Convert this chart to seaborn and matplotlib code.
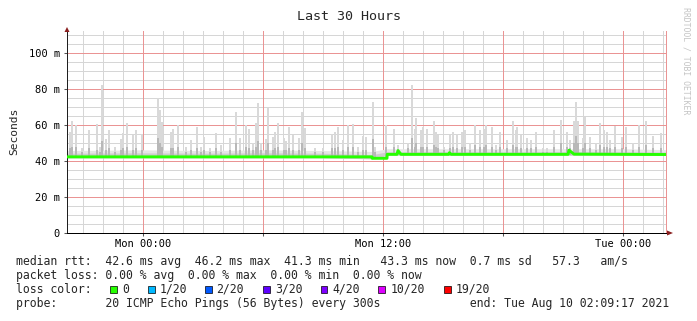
import numpy as np
import pandas as pd
import matplotlib
matplotlib.use("Agg")
import matplotlib.pyplot as plt
import seaborn as sns
from matplotlib.patches import Rectangle, Polygon

# ---------------- data (hours relative to Mon 00:00, values in ms) ----------------
median_hours = [-3.8, 11.45, 11.46, 12.2, 12.21, 12.7, 12.75, 12.9, 15.28, 15.32, 15.4,
                21.25, 21.3, 21.55, 26.15]
median_ms = [42.3, 42.3, 41.5, 41.5, 43.7, 43.7, 45.8, 43.7, 43.7, 44.6, 43.7,
             43.7, 46.0, 43.8, 43.6]

base_hours = [-3.8, 0, 3, 6, 9, 11.45, 12.2, 15, 18, 21, 24, 26.15]
base_low = [41.8, 41.8, 41.8, 41.8, 41.8, 41.2, 43.2, 43.2, 43.2, 43.2, 43.2, 43.2]
base_top = [45.8, 46.2, 45.8, 46.2, 45.8, 45.3, 46.8, 46.8, 46.8, 46.8, 46.8, 46.3]
dark_top = [44.3, 44.5, 44.3, 44.5, 44.3, 43.5, 45.1, 45.2, 45.1, 45.2, 45.1, 45.0]

spike_hours = [-3.65, -3.55, -3.35, -3.05, -2.70, -2.30, -2.15, -2.05, -1.85, -1.70,
               -1.40, -1.10, -1.00, -0.80, -0.50, -0.35, -0.05, 0.75, 0.85, 0.95,
               1.40, 1.50, 1.75, 2.15, 2.40, 2.70, 2.90, 3.05, 3.35, 3.65,
               3.90, 4.35, 4.65, 4.85, 5.15, 5.30, 5.50, 5.65, 5.75, 5.90,
               6.15, 6.25, 6.50, 6.60, 6.75, 7.05, 7.15, 7.30, 7.50, 7.80,
               7.95, 8.10, 8.60, 9.00, 9.45, 9.60, 9.75, 10.00, 10.25, 10.50,
               10.75, 11.00, 11.15, 11.50, 11.60, 12.15, 12.55, 12.75, 13.25, 13.45,
               13.60, 13.65, 13.90, 14.00, 14.20, 14.55, 14.65, 14.75, 15.05, 15.35,
               15.50, 15.70, 15.95, 16.10, 16.35, 16.60, 16.85, 17.05, 17.15, 17.45,
               17.65, 17.85, 18.20, 18.50, 18.65, 18.70, 18.90, 19.20, 19.40, 19.65,
               20.00, 20.20, 20.55, 20.90, 21.20, 21.35, 21.55, 21.65, 21.75, 22.00,
               22.10, 22.35, 22.65, 22.85, 23.05, 23.20, 23.35, 23.60, 23.95, 24.15,
               24.50, 24.80, 25.15, 25.50, 25.90]
spike_top = [56, 62, 60, 47, 57, 60.5, 48, 82, 52, 57,
             48, 52.5, 55.5, 61, 54.5, 57, 55, 75, 68.3, 61.5,
             56, 58, 60, 48, 51.7, 59, 48, 53.5, 47, 55.3,
             48.8, 52.6, 67, 52.6, 60, 58, 50, 61, 72, 50,
             52, 69.3, 53.5, 56, 61, 52.6, 51, 59, 54.5, 52.6,
             67.4, 58.5, 47, 47, 55, 56, 58.7, 51.7, 60, 60.4,
             48, 54, 53.5, 73, 48, 60, 58, 49, 50, 82,
             58, 63.7, 57, 59, 58, 62, 56, 54.5, 48, 54.5,
             56, 55, 56, 57, 50, 60, 57.5, 58, 60, 59,
             49, 56, 51.7, 62, 57, 59, 54.5, 52.6, 51.7, 56,
             47, 47, 57, 63, 56, 51.7, 62, 73, 62, 52.6,
             64.6, 53.5, 50, 61, 57, 56, 51.7, 59.5, 53.5, 59,
             50, 60, 62, 54, 55.5]
spike_dark = [47, 48, 48, 45, 47, 46, 45, 51, 46, 47,
              45, 46, 47, 48, 46, 47, 46, 53, 50, 48,
              47, 47, 48, 45, 46, 47, 45, 46, 45, 47,
              45, 46, 50, 46, 48, 47, 46, 48, 51, 46,
              46, 50, 46, 47, 48, 46, 46, 47, 46, 46,
              50, 47, 45, 45, 47, 47, 48, 46, 48, 48,
              45, 46, 46, 52, 45, 48, 48, 46, 47, 53,
              48, 50, 48, 48, 48, 49, 48, 47, 46, 47,
              48, 47, 48, 48, 46, 49, 48, 48, 49, 48,
              46, 48, 47, 49, 48, 48, 47, 47, 47, 48,
              45, 45, 48, 50, 48, 47, 50, 54, 50, 47,
              50, 47, 46, 49, 48, 48, 47, 48, 47, 48,
              46, 48, 49, 47, 47]

x_major = [0, 6, 12, 18, 24]
x_labels = ["Mon 00:00", "", "Mon 12:00", "", "Tue 00:00"]
x_minor = [-3, -2, -1, 1, 2, 3, 4, 5, 7, 8, 9, 10, 11, 13, 14, 15, 16, 17,
           19, 20, 21, 22, 23, 25, 26]
y_major = [0, 20, 40, 60, 80, 100]
y_labels = ["0", "20 m", "40 m", "60 m", "80 m", "100 m"]
y_minor = [5, 10, 15, 25, 30, 35, 45, 50, 55, 65, 70, 75, 85, 90, 95, 105, 110]

loss_labels = ["0", "1/20", "2/20", "3/20", "4/20", "10/20", "19/20"]
loss_colors = ["#26ff00", "#00b8ff", "#0059ff", "#5e00ff", "#7e00ff", "#dd00ff", "#ff0000"]

legend_line1 = "median rtt:  42.6 ms avg  46.2 ms max  41.3 ms min   43.3 ms now  0.7 ms sd   57.3   am/s"
legend_line2 = "packet loss: 0.00 % avg  0.00 % max  0.00 % min  0.00 % now"
legend_line4 = "probe:       20 ICMP Echo Pings (56 Bytes) every 300s             end: Tue Aug 10 02:09:17 2021"

# ---------------- style ----------------
sns.set_theme(style="white")
plt.rcParams["font.family"] = ["DejaVu Sans Mono", "DejaVu Sans"]

W, H = 697, 321
fig = plt.figure(figsize=(W / 100, H / 100), dpi=100)
fig.patch.set_facecolor("white")
ax = fig.add_axes([67 / W, (H - 233) / H, 599 / W, 201.6 / H])
ax.set_facecolor("white")

# grid drawn as crisp 1px lines beneath data
PX = 0.72
MAJ = "#ea9494"
for xv in x_minor:
    ax.axvline(xv, color="#d6d6d6", lw=PX, zorder=0.2, antialiased=False)
for yv in y_minor:
    ax.axhline(yv, color="#d6d6d6", lw=PX, zorder=0.2, antialiased=False)
for xv in x_major:
    ax.axvline(xv, color=MAJ, lw=PX, zorder=0.3, antialiased=False)
for yv in y_major[1:]:
    ax.axhline(yv, color=MAJ, lw=PX, zorder=0.3, antialiased=False)

# smoke
sh = np.array(spike_hours)
bottom = np.where(sh < 11.45, 41.8, np.where(sh < 12.2, 41.2, 43.2))
ax.fill_between(base_hours, base_low, base_top, color="#e6e6e6", lw=0, zorder=1)
ax.bar(sh, np.array(spike_top) - bottom, bottom=bottom, width=0.14,
       color="#d9d9d9", lw=0, zorder=1.1)
ax.fill_between(base_hours, base_low, dark_top, color="#cdcdcd", lw=0, zorder=1.2)
ax.bar(sh, np.array(spike_dark) - bottom, bottom=bottom, width=0.09,
       color="#b8b8b8", lw=0, zorder=1.3)

# median
sns.lineplot(x=median_hours, y=median_ms, ax=ax, color="#26ff00", lw=2.1,
             estimator=None, zorder=3)

ax.set_xlim(-3.8, 26.15)
ax.set_ylim(0, 112)
ax.set_xticks(x_major)
ax.set_xticklabels(x_labels)
ax.set_yticks(y_major)
ax.set_yticklabels(y_labels)
ax.grid(False)
ax.tick_params(axis="both", which="major", length=2, width=0.75, color="#555555",
               labelsize=7.5, labelcolor="#000000", bottom=True, left=True)
ax.tick_params(axis="x", which="major", pad=2)
ax.tick_params(axis="y", which="major", pad=3)
ax.set_xlabel("")
ax.set_ylabel("")

ax.spines["top"].set_visible(False)
ax.spines["right"].set_color(MAJ)
ax.spines["right"].set_linewidth(PX)
ax.spines["left"].set_color("#1f1f1f")
ax.spines["left"].set_linewidth(PX)
ax.spines["bottom"].set_color("#000000")
ax.spines["bottom"].set_linewidth(PX)


def fp(x, y):
    return (x / W, 1 - y / H)


arrow_col = "#8a1f1f"
fig.patches.append(Polygon([fp(64.5, 32), fp(69.5, 32), fp(67, 27)], closed=True,
                           transform=fig.transFigure, color=arrow_col, lw=0))
fig.patches.append(Polygon([fp(667, 230.5), fp(667, 235.5), fp(673, 233)], closed=True,
                           transform=fig.transFigure, color=arrow_col, lw=0))

# texts
fig.text(349 / W, 1 - 16 / H, "Last 30 Hours", ha="center", va="center", size=9.6)
fig.text(14 / W, 1 - 131.5 / H, "Seconds", rotation=90, ha="center", va="center", size=8.1)
fig.text(686 / W, 1 - 61 / H, "RRDTOOL / TOBI OETIKER", rotation=270, ha="center",
         va="center", size=5.9, color="#c4c4c4")

LS = 8.3
fig.text(16 / W, 1 - 261.5 / H, legend_line1, ha="left", va="center", size=LS)
fig.text(16 / W, 1 - 275.5 / H, legend_line2, ha="left", va="center", size=LS)
fig.text(16 / W, 1 - 289.5 / H, "loss color:", ha="left", va="center", size=LS)
fig.text(16 / W, 1 - 303.5 / H, legend_line4, ha="left", va="center", size=LS)

sq_x = [110, 148, 205, 263, 320.7, 378, 444]
lab_x = [122.5, 159.5, 216, 275.5, 332.5, 391, 456]
for sx, lx, lab, col in zip(sq_x, lab_x, loss_labels, loss_colors):
    fig.patches.append(Rectangle(fp(sx, 292.5), 6.7 / W, 6.7 / H, transform=fig.transFigure,
                                 facecolor=col, edgecolor="#000000", lw=0.5))
    fig.text(lx / W, 1 - 289.5 / H, lab, ha="left", va="center", size=LS)

fig.savefig("out.png", dpi=100, facecolor="white")
